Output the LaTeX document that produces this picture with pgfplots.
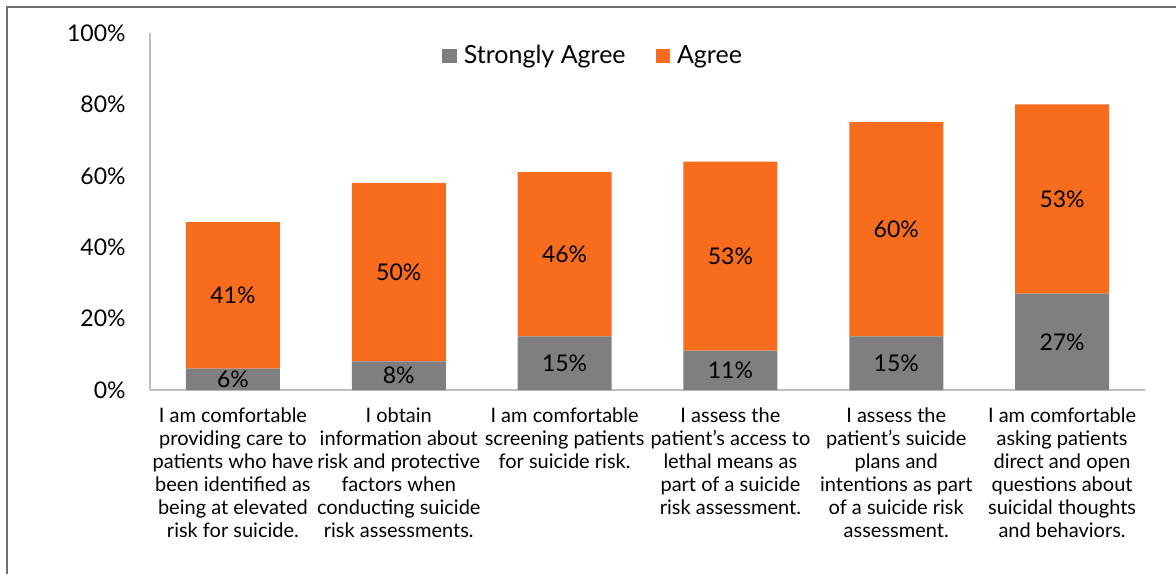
\documentclass[border=0pt]{standalone}
\usepackage{fontspec}
\setmainfont{Lato}
\usepackage{pgfplots}
\pgfplotsset{compat=1.18}
\usepackage{pgfplotstable}
\definecolor{sagray}{RGB}{127,127,130}
\definecolor{agorange}{RGB}{248,108,30}
\definecolor{axgray}{RGB}{190,190,190}
\definecolor{framegray}{RGB}{110,110,110}

\pgfplotstableread{
x sa ag
0 6 41
1 8 50
2 15 46
3 11 53
4 15 60
5 27 53
}\data

\begin{document}
\begin{tikzpicture}
\useasboundingbox (0,0) rectangle (588pt,286.5pt);
\draw[color=framegray, line width=1pt] (3.5pt,-5pt) -- (3.5pt,283pt) -- (600pt,283pt);
\begin{axis}[
  at={(75pt,91.5pt)}, anchor=south west, scale only axis,
  width=497.5pt, height=178.5pt,
  ybar stacked, bar width=47pt,
  xmin=-0.5, xmax=5.5, ymin=0, ymax=100,
  axis x line=bottom, axis y line=left,
  axis line style={-, draw=axgray, line width=0.9pt},
  major tick length=0pt,
  ytick={0,20,40,60,80,100},
  yticklabels={0\%,20\%,40\%,60\%,80\%,100\%},
  yticklabel style={font=\fontsize{11.5}{13}\selectfont, inner sep=0pt, xshift=-12pt},
  xtick={0,1,2,3,4,5},
  xticklabels={
    {I am comfortable\\providing care to\\patients who have\\been identified as\\being at elevated\\risk for suicide.},
    {I obtain\\information about\\risk and protective\\factors when\\conducting suicide\\risk assessments.},
    {I am comfortable\\screening patients\\for suicide risk.},
    {I assess the\\patient’s access to\\lethal means as\\part of a suicide\\risk assessment.},
    {I assess the\\patient’s suicide\\plans and\\intentions as part\\of a suicide risk\\assessment.},
    {I am comfortable\\asking patients\\direct and open\\questions about\\suicidal thoughts\\and behaviors.}},
  xticklabel style={font=\fontsize{10}{11.5}\selectfont, align=center, anchor=north, inner sep=0pt, yshift=-8.5pt},
  legend style={at={(0.2875,0.9356)}, anchor=west, draw=none, fill=none,
    legend columns=2, font=\fontsize{12.5}{14}\selectfont,
    /tikz/every odd column/.append style={column sep=1.5pt},
    /tikz/every even column/.append style={column sep=13pt}},
  legend image code/.code={\fill[#1] (0pt,-3.6pt) rectangle (7.2pt,3.6pt);},
]
\addplot[fill=sagray, draw=none] table[x=x, y=sa] {\data};
\addplot[fill=agorange, draw=none] table[x=x, y=ag] {\data};
\legend{Strongly Agree, Agree}
\end{axis}
\begin{axis}[
  at={(75pt,91.5pt)}, anchor=south west, scale only axis,
  width=497.5pt, height=178.5pt,
  xmin=-0.5, xmax=5.5, ymin=0, ymax=100, hide axis,
  point meta=explicit,
  nodes near coords={\pgfmathprintnumber{\pgfplotspointmeta}\%},
  every node near coord/.append style={anchor=center, font=\fontsize{11.5}{13}\selectfont, text=black},
  /pgf/number format/assume math mode=true,
]
\addplot[only marks, mark=none] table[x=x, y expr=\thisrow{sa}/2, meta=sa] {\data};
\addplot[only marks, mark=none] table[x=x, y expr=\thisrow{sa}+\thisrow{ag}/2, meta=ag] {\data};
\end{axis}
\end{tikzpicture}
\end{document}
